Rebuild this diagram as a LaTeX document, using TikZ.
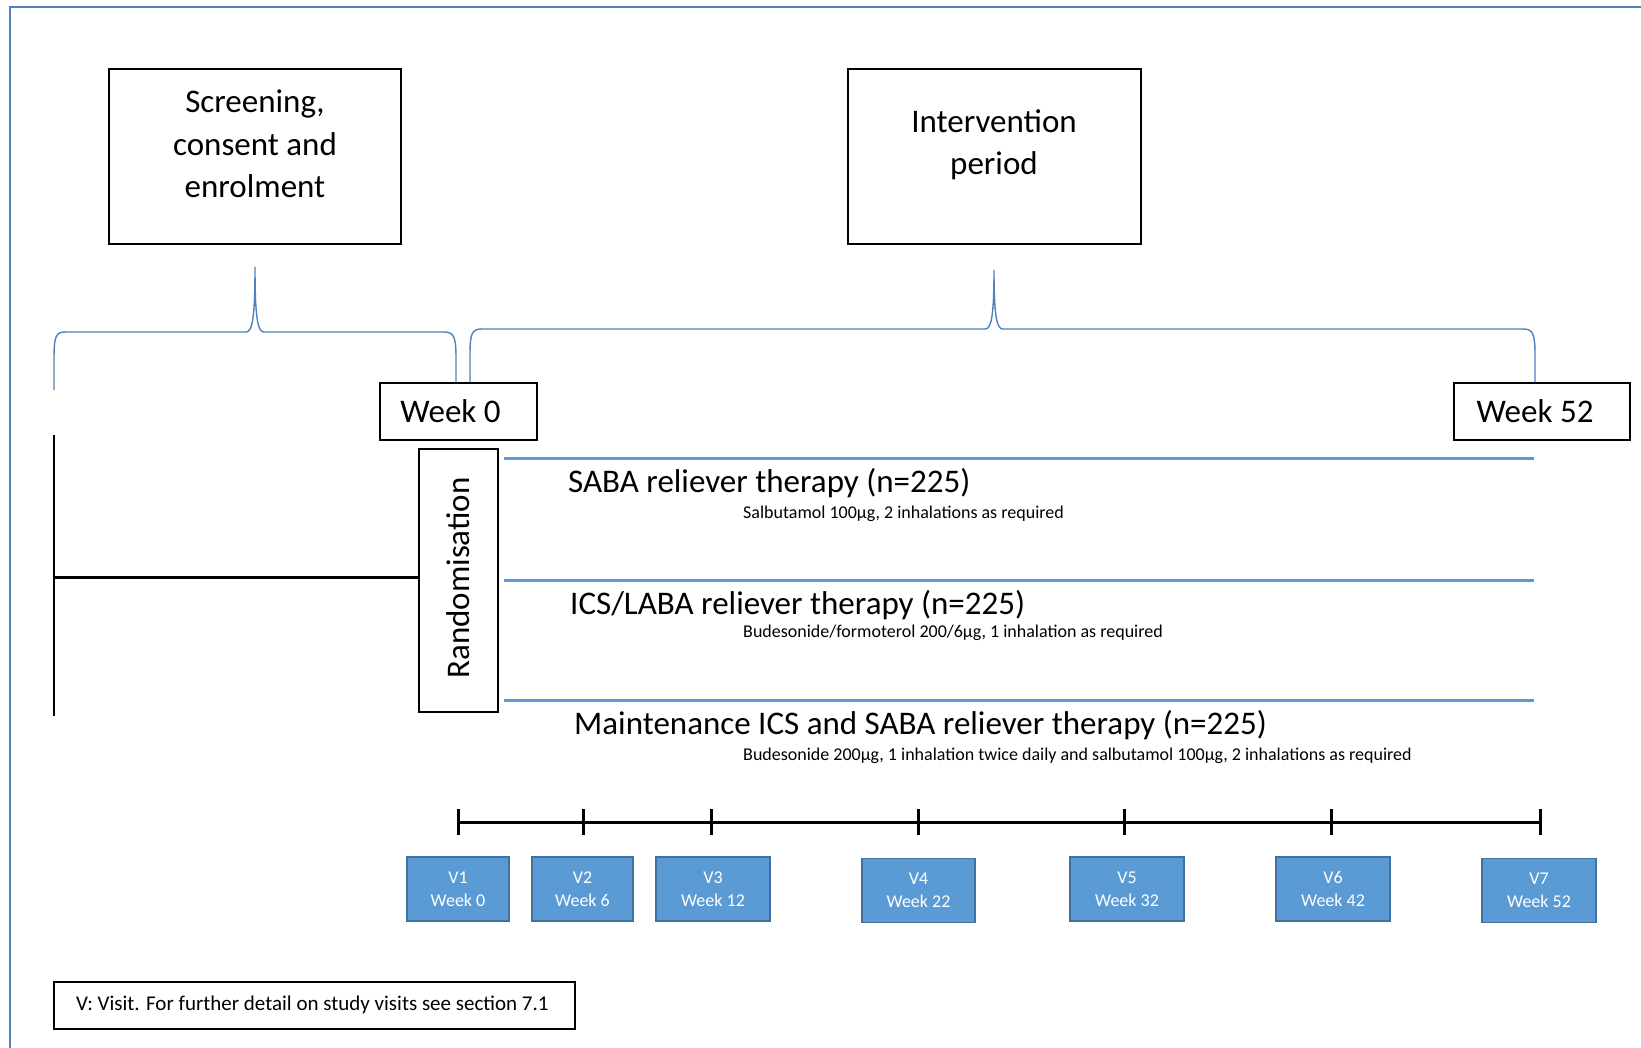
\documentclass[tikz,border=0pt]{standalone}
\usepackage{fontspec}
\setmainfont{Carlito}
\definecolor{frameblue}{RGB}{79,129,189}
\definecolor{armblue}{RGB}{91,155,213}
\definecolor{visitedge}{RGB}{65,113,156}
\begin{document}
\begin{tikzpicture}[x=1pt,y=-1pt,
  box/.style={draw=black, line width=1.4pt, inner sep=0pt},
  bigtxt/.style={font=\fontsize{33}{42.4}\selectfont, align=center, inner sep=0pt},
  armtitle/.style={font=\fontsize{33}{38}\selectfont, anchor=west, inner sep=0pt},
  armsub/.style={font=\fontsize{18}{22}\selectfont, anchor=west, inner sep=0pt},
  armline/.style={draw=armblue, line width=3pt},
  bracepath/.style={draw=frameblue, line width=1.4pt},
  blackline/.style={draw=black, line width=2pt},
  visitbox/.style={draw=visitedge, fill=armblue, line width=1.4pt, text=white,
    font=\fontsize{18}{23}\selectfont, align=center, minimum height=64pt, inner sep=0pt},
]
\useasboundingbox (0,0) rectangle (1641,1048);
\fill[white] (0,0) rectangle (1641,1048);
% outer frame
\draw[frameblue, line width=1.4pt] (10,1048) -- (10,7) -- (1641,7);

% header boxes
\node[box, minimum width=292pt, minimum height=175pt] (scr) at (255,156.5) {};
\node[bigtxt] (scrt) at (255,144) {Screening,\\consent and\\enrolment};
\node[box, minimum width=293pt, minimum height=175pt] (int) at (994.5,156.5) {};
\node[bigtxt] (intt) at (994,145) {Intervention\\period};

% week boxes
\node[box, minimum width=157pt, minimum height=57pt] (w0) at (458.5,411.5) {};
\node[bigtxt] (w0t) at (450.5,411.5) {Week 0};
\node[box, minimum width=176pt, minimum height=57pt] (w52) at (1542,411.5) {};
\node[bigtxt] (w52t) at (1535,411.5) {Week 52};

% braces
\draw[bracepath] (54,390) -- (54,360) .. controls (54,335) and (56,332) .. (66,332)
  -- (246,332) .. controls (252,332) and (255,320) .. (255,267)
  .. controls (255,320) and (258,332) .. (264,332)
  -- (444,332) .. controls (454,332) and (456,337) .. (456,358) -- (w0.north -| 456,0);
\draw[bracepath] (w0.north -| 470,0) -- (470,355) .. controls (470,333) and (472,329) .. (482,329)
  -- (985,329) .. controls (991,329) and (994,318) .. (994,270)
  .. controls (994,318) and (997,329) .. (1003,329)
  -- (1523,329) .. controls (1533,329) and (1535,334) .. (1535,355) -- (w52.north -| 1535,0);

% randomisation
\node[box, minimum width=79pt, minimum height=263pt] (rand) at (458.5,580.5) {};
\node[bigtxt, rotate=90] (randt) at (458,578) {Randomisation};

% black lines on left
\coordinate (vtop) at (54,435);
\coordinate (vbot) at (54,716);
\coordinate (vmid) at (54,577);
\draw[blackline] (vtop) -- (vbot);
\draw[blackline, line width=3pt] (vmid) -- (vmid -| rand.west);

% arms
\coordinate (a1s) at (504,458); \coordinate (a1e) at (1534,458);
\coordinate (a2s) at (504,580); \coordinate (a2e) at (1534,580);
\coordinate (a3s) at (504,700); \coordinate (a3e) at (1534,700);
\draw[armline] (a1s) -- (a1e);
\draw[armline] (a2s) -- (a2e);
\draw[armline] (a3s) -- (a3e);

\node[armtitle] (t1) at (568,483) {SABA reliever therapy (n=225)};
\node[armsub] (s1) at (743,514) {Salbutamol 100µg, 2 inhalations as required};
\node[armtitle] (t2) at (570,605) {ICS/LABA reliever therapy (n=225)};
\node[armsub] (s2) at (743,633) {Budesonide/formoterol 200/6µg, 1 inhalation as required};
\node[armtitle] (t3) at (574,725) {Maintenance ICS and SABA reliever therapy (n=225)};
\node[armsub] (s3) at (743,756) {Budesonide 200µg, 1 inhalation twice daily and salbutamol 100µg, 2 inhalations as required};

% timeline
\foreach \i/\x in {1/458,2/583,3/711,4/918,5/1124,6/1331,7/1540} {
  \coordinate (tk\i) at (\x,822);
  \draw[black, line width=3pt] (\x,809) -- (\x,835);
}
\draw[black, line width=3pt] (tk1) -- (tk7);

% visits
\node[visitbox, minimum width=102pt] (v1) at (458,889) {V1\\Week 0};
\node[visitbox, minimum width=101pt] (v2) at (582.5,889) {V2\\Week 6};
\node[visitbox, minimum width=114pt] (v3) at (713,889) {V3\\Week 12};
\node[visitbox, minimum width=113pt] (v4) at (918.5,890.5) {V4\\Week 22};
\node[visitbox, minimum width=114pt] (v5) at (1127,889) {V5\\Week 32};
\node[visitbox, minimum width=114pt] (v6) at (1333,889) {V6\\Week 42};
\node[visitbox, minimum width=114pt] (v7) at (1539,890.5) {V7\\Week 52};

% legend
\node[box, minimum width=521pt, minimum height=47pt] (leg) at (314.5,1005.5) {};
\node[font=\fontsize{21}{24}\selectfont, anchor=west, inner sep=0pt] (legt) at (76,1004.5) {V: Visit. For further detail on study visits see section 7.1};
\end{tikzpicture}
\end{document}
